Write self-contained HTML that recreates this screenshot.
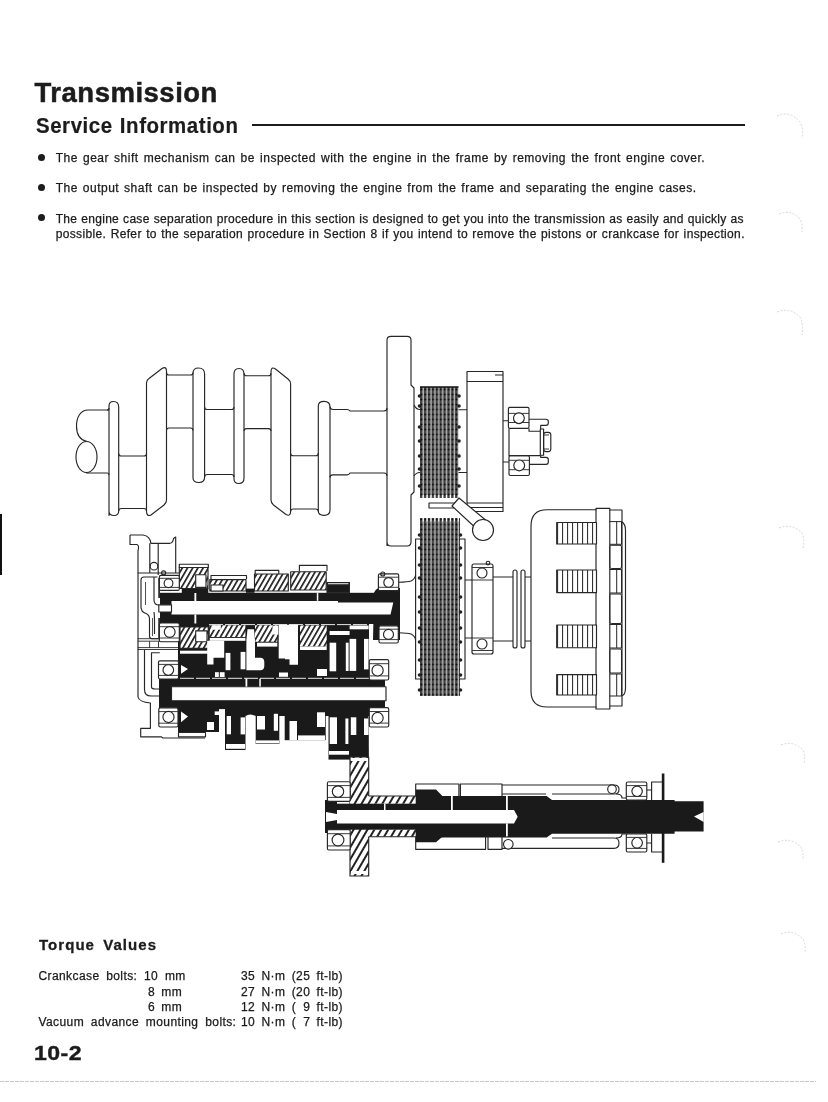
<!DOCTYPE html>
<html><head><meta charset="utf-8">
<style>
html,body{margin:0;padding:0;background:#fff;}
body{width:828px;height:1102px;position:relative;overflow:hidden;filter:grayscale(1);font-family:"Liberation Sans",sans-serif;color:#1c1c1c;}
.t{position:absolute;white-space:pre;line-height:1;}
#h1{left:34.6px;top:78.6px;font-size:27.5px;font-weight:bold;letter-spacing:0.5px;-webkit-text-stroke:0.5px #1c1c1c;}
#h2{left:35.5px;top:115.8px;font-size:21.5px;font-weight:bold;letter-spacing:0.6px;word-spacing:1px;-webkit-text-stroke:0.2px #1c1c1c;transform:scaleX(0.95);transform-origin:0 0;}
#rule{position:absolute;left:252px;top:124px;width:493px;height:2px;background:#1c1c1c;}
.b{font-size:12px;color:#1a1a1a;-webkit-text-stroke:0.25px #1a1a1a;}
.dot{position:absolute;width:7px;height:7px;border-radius:50%;background:#1c1c1c;}
#diag{position:absolute;left:0;top:0;}
</style></head><body>
<div class="t" id="h1">Transmission</div>
<div class="t" id="h2">Service Information</div>
<div id="rule"></div>

<div class="dot" style="left:38px;top:153.5px"></div>
<div class="t b" style="left:55.7px;top:151.6px;letter-spacing:0.5px;word-spacing:1.27px">The gear shift mechanism can be inspected with the engine in the frame by removing the front engine cover.</div>
<div class="dot" style="left:38px;top:183.5px"></div>
<div class="t b" style="left:55.7px;top:181.5px;letter-spacing:0.5px;word-spacing:1.09px">The output shaft can be inspected by removing the engine from the frame and separating the engine cases.</div>
<div class="dot" style="left:38px;top:214px"></div>
<div class="t b" style="left:55.7px;top:212.6px;letter-spacing:0.3px;word-spacing:0.36px">The engine case separation procedure in this section is designed to get you into the transmission as easily and quickly as</div>
<div class="t b" style="left:55.7px;top:228.3px;letter-spacing:0.35px;word-spacing:0.76px">possible. Refer to the separation procedure in Section 8 if you intend to remove the pistons or crankcase for inspection.</div>
<svg id="diag" width="828" height="1102" viewBox="0 0 828 1102" fill="none" stroke="#262626" stroke-width="1.15" stroke-linejoin="round">
<defs>
<pattern id="clutch" patternUnits="userSpaceOnUse" width="3.9" height="5" x="420" y="387">
<rect width="3.9" height="5" fill="#444" stroke="none"/>
<rect x="2.6" y="0" width="1.0" height="5" fill="#eee" stroke="none"/>
<rect x="0.3" y="1.6" width="2.1" height="1.9" rx="0.9" fill="#0c0c0c" stroke="none"/>
</pattern>
<pattern id="hatch" patternUnits="userSpaceOnUse" width="4.5" height="6" patternTransform="rotate(30)">
<rect width="4.5" height="6" fill="#fff" stroke="none"/>
<rect x="0" y="0" width="1.7" height="6" fill="#222" stroke="none"/>
</pattern>
<pattern id="hatch2" patternUnits="userSpaceOnUse" width="6" height="6" patternTransform="rotate(30)">
<rect width="6" height="6" fill="#fff" stroke="none"/>
<rect x="0" y="0" width="2" height="6" fill="#222" stroke="none"/>
</pattern>
<pattern id="coil" patternUnits="userSpaceOnUse" width="5" height="10" x="557">
<rect width="5" height="10" fill="#fff" stroke="none"/>
<rect x="0" y="0" width="1.1" height="10" fill="#333" stroke="none"/>
</pattern>
</defs>
<!-- crankshaft -->
<g>
<path d="M109,410 L88,410 C80,410 76.5,418 76.5,426 C76.5,434 80,440 87,441.5"/>
<ellipse cx="86.5" cy="457" rx="10.5" ry="15.5"/>
<path d="M86,473 L107,473 Q109,473 109,475 M107,410 Q109,410 109,408"/>
<path d="M109,515.5 V406 Q109,401.5 113.5,401.5 Q118.7,401.5 118.7,407 V511 Q118.7,515.5 114,515.5 Q109,515.5 109,511 Z"/>
<path d="M118.7,453.5 Q118.7,456 121.2,456 H144.0 Q146.5,456 146.5,453.5 M118.7,511.0 Q118.7,508.5 121.2,508.5 H144.0 Q146.5,508.5 146.5,511.0"/>
<path d="M146.5,511 V383 Q146.5,380 149,378.5 L162,368.5 Q166.5,366 166.5,371 V500 Q166.5,503 164,505 L151,515 Q146.5,517 146.5,511 Z"/>
<path d="M166.5,372.5 Q166.5,375 169.0,375 H190.5 Q193,375 193,372.5 M166.5,430.5 Q166.5,428 169.0,428 H190.5 Q193,428 193,430.5"/>
<path d="M193,478 V373 Q193,368 198.5,368 Q204.6,368 204.6,374 V477 Q204.6,482.5 199,482.5 Q193,482.5 193,478 Z"/>
<path d="M204.6,407.0 Q204.6,409.5 207.1,409.5 H231.5 Q234,409.5 234,407.0 M204.6,477.0 Q204.6,474.5 207.1,474.5 H231.5 Q234,474.5 234,477.0"/>
<path d="M234,479 V374 Q234,368.5 239,368.5 Q244,368.5 244,374 V478 Q244,483.5 239,483.5 Q234,483.5 234,479 Z"/>
<path d="M244,373.2 Q244,375.7 246.5,375.7 H268.5 Q271,375.7 271,373.2 M244,431.1 Q244,428.6 246.5,428.6 H268.5 Q271,428.6 271,431.1"/>
<path d="M271,372 Q271,366 275.5,369 L288,379 Q290.6,381 290.6,384 V511 Q290.6,517 286,514.5 L273.5,505 Q271,503 271,500 Z"/>
<path d="M290.6,453.2 Q290.6,455.7 293.1,455.7 H315.8 Q318.3,455.7 318.3,453.2 M290.6,511.5 Q290.6,509 293.1,509 H315.8 Q318.3,509 318.3,511.5"/>
<path d="M318.3,511 V406 Q318.3,401.3 324,401.3 Q330,401.3 330,407 V510 Q330,515.3 324,515.3 Q318.3,515.3 318.3,511 Z"/>
<path d="M330,406.5 Q330,409.5 333,409.5 H347 Q349,409.5 350,411 H384 Q387,411 387,408 M330,477.5 Q330,474.8 333,474.8 H347 Q349,474.8 350,473 H384 Q387,473 387,476"/>
</g>
<!-- flywheel / primary -->
<path d="M387,546 V340 Q387,336.3 391,336.3 H407 Q411,336.3 411,340 V385 L414,388 V492 L411,495 V542 Q411,546 407,546 H391 Q387,546 387,542"/>
<rect x="420" y="387" width="38.5" height="111" fill="url(#clutch)" stroke="none"/><path d="M420,387 H458.5" stroke="#111" stroke-width="1.5"/><circle cx="419.5" cy="396" r="1.8" fill="#222" stroke="none"/><circle cx="459" cy="396" r="1.8" fill="#222" stroke="none"/><circle cx="419.5" cy="406" r="1.8" fill="#222" stroke="none"/><circle cx="459" cy="406" r="1.8" fill="#222" stroke="none"/><circle cx="419.5" cy="427" r="1.8" fill="#222" stroke="none"/><circle cx="459" cy="427" r="1.8" fill="#222" stroke="none"/><circle cx="419.5" cy="441" r="1.8" fill="#222" stroke="none"/><circle cx="459" cy="441" r="1.8" fill="#222" stroke="none"/><circle cx="419.5" cy="456" r="1.8" fill="#222" stroke="none"/><circle cx="459" cy="456" r="1.8" fill="#222" stroke="none"/><circle cx="419.5" cy="469" r="1.8" fill="#222" stroke="none"/><circle cx="459" cy="469" r="1.8" fill="#222" stroke="none"/><circle cx="419.5" cy="486" r="1.8" fill="#222" stroke="none"/><circle cx="459" cy="486" r="1.8" fill="#222" stroke="none"/>
<rect x="422.6" y="495" width="1.1" height="3.5" fill="#fff" stroke="none"/><rect x="426.5" y="495" width="1.1" height="3.5" fill="#fff" stroke="none"/><rect x="430.4" y="495" width="1.1" height="3.5" fill="#fff" stroke="none"/><rect x="434.3" y="495" width="1.1" height="3.5" fill="#fff" stroke="none"/><rect x="438.2" y="495" width="1.1" height="3.5" fill="#fff" stroke="none"/><rect x="442.1" y="495" width="1.1" height="3.5" fill="#fff" stroke="none"/><rect x="446.0" y="495" width="1.1" height="3.5" fill="#fff" stroke="none"/><rect x="449.9" y="495" width="1.1" height="3.5" fill="#fff" stroke="none"/><rect x="453.8" y="495" width="1.1" height="3.5" fill="#fff" stroke="none"/><rect x="457.7" y="495" width="1.1" height="3.5" fill="#fff" stroke="none"/>
<path d="M414,405 Q416,409.5 420,409.5 M414,476 Q416,472.5 420,472.5"/>
<path d="M458.5,409.7 H467 M458.5,472.5 H467"/>
<rect x="467" y="371.5" width="36" height="140"/>
<path d="M467,381.5 H503 M467,503 H503 M495,375 H503 M467,507.5 H503"/>
<path d="M503,420.7 H508.4 M503,462 H509"/>
<rect x="508.4" y="407.3" width="20.6" height="21" rx="1.5" fill="#fff"/>
<path d="M508.4,413.4 H529 M508.4,422.5 H529" stroke-width="0.9"/>
<circle cx="518.9" cy="418.2" r="5.4" fill="#fff"/>
<rect x="509" y="455.6" width="20.4" height="19.9" rx="1.5" fill="#fff"/>
<path d="M509,460.3 H529.4 M509,469.7 H529.4" stroke-width="0.9"/>
<circle cx="519.2" cy="465.4" r="5.4" fill="#fff"/>
<path d="M509,428.3 V455.6 H540.3 M529,428.3 V431.2 H540.3"/>
<path d="M529,419.2 H546 Q548.3,419.2 548.3,421.5 V423 Q548.3,425.4 546,425.4 H540.7 V429"/>
<path d="M529.4,464.3 H546 Q548.3,464.3 548.3,462 V459.7 Q548.3,457.4 546,457.4 H540.7 V455.2"/>
<rect x="540.3" y="429" width="3.3" height="26.2"/>
<rect x="543.6" y="432.3" width="7.2" height="19.3" rx="2.5"/>
<path d="M543.6,435 H549 M543.6,449 H549" stroke-width="0.9"/>
<!-- lever -->
<rect x="429" y="503" width="26" height="5"/>
<path d="M452,506 L459,498 L488,522 L479,531 Z" fill="#fff"/>
<circle cx="483" cy="530" r="10.5" fill="#fff"/>
<!-- lower clutch -->

<rect x="415.6" y="539" width="49.4" height="140" fill="#fff"/><rect x="420" y="518" width="40" height="178" fill="url(#clutch)" stroke="none"/><circle cx="419.5" cy="535" r="1.8" fill="#222" stroke="none"/><circle cx="460.5" cy="535" r="1.8" fill="#222" stroke="none"/><circle cx="419.5" cy="548" r="1.8" fill="#222" stroke="none"/><circle cx="460.5" cy="548" r="1.8" fill="#222" stroke="none"/><circle cx="419.5" cy="565" r="1.8" fill="#222" stroke="none"/><circle cx="460.5" cy="565" r="1.8" fill="#222" stroke="none"/><circle cx="419.5" cy="578" r="1.8" fill="#222" stroke="none"/><circle cx="460.5" cy="578" r="1.8" fill="#222" stroke="none"/><circle cx="419.5" cy="597" r="1.8" fill="#222" stroke="none"/><circle cx="460.5" cy="597" r="1.8" fill="#222" stroke="none"/><circle cx="419.5" cy="612" r="1.8" fill="#222" stroke="none"/><circle cx="460.5" cy="612" r="1.8" fill="#222" stroke="none"/><circle cx="419.5" cy="628" r="1.8" fill="#222" stroke="none"/><circle cx="460.5" cy="628" r="1.8" fill="#222" stroke="none"/><circle cx="419.5" cy="642" r="1.8" fill="#222" stroke="none"/><circle cx="460.5" cy="642" r="1.8" fill="#222" stroke="none"/><circle cx="419.5" cy="660" r="1.8" fill="#222" stroke="none"/><circle cx="460.5" cy="660" r="1.8" fill="#222" stroke="none"/><circle cx="419.5" cy="675" r="1.8" fill="#222" stroke="none"/><circle cx="460.5" cy="675" r="1.8" fill="#222" stroke="none"/><circle cx="419.5" cy="690" r="1.8" fill="#222" stroke="none"/><circle cx="460.5" cy="690" r="1.8" fill="#222" stroke="none"/>
<rect x="422.6" y="517.5" width="1.1" height="4" fill="#fff" stroke="none"/><rect x="426.5" y="517.5" width="1.1" height="4" fill="#fff" stroke="none"/><rect x="430.4" y="517.5" width="1.1" height="4" fill="#fff" stroke="none"/><rect x="434.3" y="517.5" width="1.1" height="4" fill="#fff" stroke="none"/><rect x="438.2" y="517.5" width="1.1" height="4" fill="#fff" stroke="none"/><rect x="442.1" y="517.5" width="1.1" height="4" fill="#fff" stroke="none"/><rect x="446.0" y="517.5" width="1.1" height="4" fill="#fff" stroke="none"/><rect x="449.9" y="517.5" width="1.1" height="4" fill="#fff" stroke="none"/><rect x="453.8" y="517.5" width="1.1" height="4" fill="#fff" stroke="none"/><rect x="457.7" y="517.5" width="1.1" height="4" fill="#fff" stroke="none"/>
<path d="M465,580 H472 M465,638 H472"/>
<rect x="472" y="564" width="21" height="90" rx="2"/>
<path d="M472,580 H493 M472,638 H493 M472,567.5 H493 M472,650.5 H493" stroke-width="0.9"/>
<circle cx="482" cy="573" r="5" fill="#fff"/>
<circle cx="482" cy="644" r="5" fill="#fff"/>
<circle cx="488" cy="563" r="1.8"/>
<path d="M493,577 H513 M493,641 H513"/>
<rect x="513" y="570" width="4" height="78" rx="2"/>
<rect x="521" y="570" width="4" height="78" rx="2"/>
<path d="M525,577 H531 M525,641 H531"/>
<!-- alternator -->
<path d="M596.5,509.7 H547 Q531,509.7 531,526 V691 Q531,707 547,707 H596.5"/>
<rect x="596" y="508.3" width="13.8" height="200.7"/>
<path d="M609.8,510 H622 V706 H609.8"/>
<path d="M621.5,521.5 Q625.5,524 625.5,530 V688 Q625.5,695 621.5,696"/>
<rect x="556.7" y="522.5" width="39.8" height="21.5" fill="url(#coil)"/>
<rect x="556.7" y="570" width="39.8" height="22.6" fill="url(#coil)"/>
<rect x="556.7" y="625" width="39.8" height="22.7" fill="url(#coil)"/>
<rect x="556.7" y="674.6" width="39.8" height="20.4" fill="url(#coil)"/>
<path d="M609.8,521.6 H621.5 V544.3 H609.8 M616.7,521.6 V544.3" stroke-width="1"/>
<path d="M609.8,569.5 H621.5 V593 H609.8 M616.7,569.5 V593" stroke-width="1"/>
<path d="M609.8,624.5 H621.5 V648 H609.8 M616.7,624.5 V648" stroke-width="1"/>
<path d="M609.8,674 H621.5 V696 H609.8 M616.7,674 V696" stroke-width="1"/>
<rect x="609.8" y="545.3" width="11.7" height="23.200000000000045" rx="1.5" stroke-width="1"/>
<rect x="609.8" y="594" width="11.7" height="29.5" rx="1.5" stroke-width="1"/>
<rect x="609.8" y="649" width="11.7" height="24" rx="1.5" stroke-width="1"/>
<!-- ===== transmission ===== -->
<g>
<!-- case outline -->
<path d="M130,535 H143 Q150,536 151,543.3 H170 Q173,543 173.5,538.5 L175.7,537 V573"/>
<path d="M130,535 V544.5 H137 Q139.5,545.5 138,551 V697 Q139,702 150.4,703 V728.3 H140.7 V736.8 H161.2 L163,738 H205"/>
<path d="M149.8,543.3 V573 M158.2,543.3 V575"/>
<circle cx="154" cy="566.2" r="3.8"/>
<path d="M137.7,573 H179.3"/>
<path d="M157.5,577 H144 Q141,577 141,580 V607 Q141,612 146,613.5 Q149.5,615 149.5,619 V636 Q149.5,638.7 152,638.7 H159"/>
<path d="M154,577 Q154,580 154,583 V600 Q154,605 159,605"/>
<path d="M154,612 Q154.5,616 154.5,620 V634"/>
<path d="M145.5,582 V605 M152.5,618 V636" stroke-width="0.8"/>
<rect x="158.3" y="578" width="1.6" height="20" fill="#1a1a1a" stroke="none"/>
<rect x="158.3" y="618" width="1.6" height="20" fill="#1a1a1a" stroke="none"/>
<path d="M137.7,638.7 H179 M137.7,641.2 H179 M137.7,647.6 H179 M137.7,649.5 H179 M149.6,641.2 V647.6 M158.5,641.2 V647.6" stroke-width="0.9"/>
<path d="M144.5,650 V689.5 Q144.5,696 151,696 H171.5"/>
<path d="M159.8,652.7 H151.5 V687 Q151.5,689 155.3,689 H159.8"/>
<!-- main shaft -->
<rect x="160" y="592.8" width="240" height="31.2" fill="#1a1a1a" stroke="none"/>
<path d="M374,592.8 Q376,588 380,588 H400 V640 H373 Z" fill="#1a1a1a" stroke="none"/>
<path d="M171.5,601 H338 V602.4 H393.3 L390.5,614.5 H171.5 Z" fill="#fff" stroke="none"/>
<rect x="158.8" y="604.8" width="12.7" height="7.2" fill="#fff"/>
<rect x="194.4" y="592.8" width="1.9" height="8.2" fill="#fff" stroke="none"/>
<rect x="194.4" y="614.5" width="1.9" height="9" fill="#fff" stroke="none"/>
<rect x="316.8" y="592.8" width="1.5" height="8" fill="#fff" stroke="none"/>
<!-- upper gears on main shaft -->
<rect x="181.8" y="588" width="26.5" height="5" fill="#1a1a1a" stroke="none"/>
<rect x="179.3" y="567.5" width="28.7" height="21" fill="url(#hatch)"/>
<rect x="195.7" y="574.7" width="10.3" height="12.7" fill="#fff"/>
<path d="M179.3,568 V564.2 H208.3 V568"/>
<rect x="209.8" y="579.6" width="36.2" height="11.4" fill="url(#hatch)"/>
<rect x="211" y="585" width="12" height="6" fill="#fff"/>
<path d="M211,579 V575.5 H246.5 V579"/>
<rect x="246" y="588.6" width="8.5" height="4.2" fill="#1a1a1a" stroke="none"/>
<rect x="254.5" y="574" width="33.8" height="17" fill="url(#hatch)"/>
<path d="M255.2,574 V570.4 H278.8 V574"/>
<rect x="290.7" y="571.7" width="35.5" height="18.3" fill="url(#hatch)"/>
<path d="M299.4,571 V565.3 H327 V571"/>
<rect x="327" y="582.6" width="22.4" height="10.2" fill="#1a1a1a"/>
<path d="M327,582.6 H349.4 V592.8" stroke="#fff" stroke-width="0"/>
<rect x="327.5" y="582.6" width="21.5" height="2.2" fill="#fff" stroke="#222"/>
<!-- bearings main shaft -->
<rect x="159.4" y="575.3" width="19.9" height="15.1" rx="1.5" fill="#fff"/><path d="M159.4,578.3 H179.3 M159.4,587.4 H179.3" stroke-width="0.9"/><circle cx="168.5" cy="583.2" r="4.4" fill="#fff"/>
<circle cx="163.6" cy="572.9" r="2"/>
<rect x="378.4" y="573.9" width="20.3" height="16.7" rx="1.5" fill="#fff"/><path d="M378.4,577.2 H398.7 M378.4,587.3 H398.7" stroke-width="0.9"/><circle cx="388.6" cy="582.4" r="4.8" fill="#fff"/>
<circle cx="382.8" cy="574" r="2"/>
<path d="M398.7,582.3 Q408,582 411,581 Q415,579 415.6,575"/>
<!-- lower side of main shaft -->
<rect x="178" y="624" width="191" height="62.5" fill="#1a1a1a" stroke="none"/>
<rect x="159.4" y="623.0" width="19.9" height="18.7" rx="1.5" fill="#fff"/><path d="M159.4,626.7 H179.3 M159.4,638.0 H179.3" stroke-width="0.9"/><circle cx="169.7" cy="632.0" r="5.4" fill="#fff"/>
<rect x="180" y="627" width="28.3" height="21.3" fill="url(#hatch)"/>
<rect x="195.7" y="630.8" width="11.3" height="10.9" fill="#fff"/>
<rect x="180" y="650.7" width="28" height="3" fill="#fff" stroke="none"/>
<rect x="209.7" y="625.3" width="35.7" height="11.7" fill="url(#hatch)" stroke="none"/>
<rect x="211.6" y="625.3" width="9.2" height="4.4" fill="#fff" stroke="none"/>
<rect x="209.7" y="637.9" width="35.7" height="2.9" fill="#fff" stroke="none"/>
<path d="M247.5,629.2 H254 L255,640 V657.7 H260 Q264.3,657.7 264.3,662 V666 Q264.3,670.2 260,670.2 H246.4 V640 Z" fill="#fff" stroke="none"/>
<rect x="255" y="625.3" width="22.3" height="16.4" fill="url(#hatch)" stroke="none"/><rect x="272.5" y="625.8" width="5.8" height="8.7" fill="#fff" stroke="none"/>
<rect x="257" y="642.7" width="20.3" height="3.9" fill="#fff" stroke="none"/>
<path d="M278.7,624.8 H298 V664.7 H289.5 V658.6 H278.7 Z" fill="#fff" stroke="none"/>
<rect x="300" y="625.5" width="26.7" height="21" fill="url(#hatch)" stroke="none"/>
<rect x="300" y="646.5" width="26.7" height="3.5" fill="#fff" stroke="none"/>
<rect x="349.6" y="625.5" width="19" height="3.8" fill="#fff" stroke="none"/>
<rect x="329.6" y="631" width="20" height="4" fill="#fff" stroke="none"/>
<path d="M207.2,640.8 H224.2 V657.7 H213.5 V664.4 H207.2 Z" fill="#fff" stroke="none"/><rect x="225.6" y="652.9" width="4.8" height="17.3" fill="#fff" stroke="none"/>

<rect x="240.6" y="651.9" width="4.8" height="17.4" fill="#fff" stroke="none"/>
<rect x="215" y="672.2" width="3.8" height="4.8" fill="#fff" stroke="none"/><rect x="219.8" y="672.2" width="4.8" height="4.8" fill="#fff" stroke="none"/>
<rect x="279" y="672.5" width="9" height="4.3" fill="#fff" stroke="none"/>
<path d="M181,665 L188,669 L181,673.7 Z" fill="#fff" stroke="none"/>
<rect x="317" y="669" width="10" height="7" fill="#fff" stroke="none"/>
<rect x="285" y="646" width="12" height="13.3" fill="#fff" stroke="none"/>
<rect x="329.6" y="642.7" width="6.6" height="28.6" fill="#fff" stroke="none"/>
<rect x="345.8" y="642.7" width="2.8" height="28.3" fill="#fff" stroke="none"/>
<rect x="349.6" y="638.9" width="6.6" height="32" fill="#fff" stroke="none"/>
<rect x="364" y="638.9" width="4.6" height="30.5" fill="#fff" stroke="none"/>
<rect x="379.0" y="625.8" width="19.3" height="17.2" rx="1.5" fill="#fff"/><path d="M379.0,629.2 H398.3 M379.0,639.6 H398.3" stroke-width="0.9"/><circle cx="388.5" cy="634.4" r="5.0" fill="#fff"/>
<path d="M398.3,632.8 Q408,633 411,634 Q415,636 415.6,640"/>
<!-- counter shaft -->
<rect x="159" y="678.6" width="226" height="31" fill="#1a1a1a" stroke="none"/>
<rect x="171.5" y="686.7" width="214.5" height="14" fill="#fff"/>
<rect x="245.5" y="678.6" width="1.8" height="8" fill="#fff" stroke="none"/>
<rect x="259.3" y="678.6" width="1.5" height="8" fill="#fff" stroke="none"/>
<path d="M180,678.3 H369 M180,709.6 H369 M209,624.6 H369" stroke="#fff" stroke-width="0.9" stroke-dasharray="14 2"/>
<rect x="158.5" y="660.8" width="20.0" height="18.2" rx="1.5" fill="#fff"/><path d="M158.5,664.4 H178.5 M158.5,675.4 H178.5" stroke-width="0.9"/><circle cx="168.3" cy="670.0" r="5.3" fill="#fff"/>
<rect x="369.3" y="659.6" width="19.4" height="20.4" rx="1.5" fill="#fff"/><path d="M369.3,663.7 H388.7 M369.3,675.9 H388.7" stroke-width="0.9"/><circle cx="377.6" cy="670.4" r="5.6" fill="#fff"/>
<!-- counter lower gears -->
<rect x="178" y="709" width="41" height="23" fill="#1a1a1a" stroke="none"/>
<path d="M181,711.4 L188,716.5 L181,722.3 Z" fill="#fff" stroke="none"/>
<rect x="207" y="722" width="7" height="8" fill="#fff" stroke="none"/>
<rect x="214.7" y="711.4" width="4.3" height="3.6" fill="#fff" stroke="none"/>
<rect x="178.5" y="732.5" width="27" height="4.3" fill="#fff"/>
<rect x="225" y="709" width="20.5" height="41" fill="#1a1a1a" stroke="none"/>
<rect x="226" y="744" width="19" height="4.8" fill="#fff" stroke="none"/>
<rect x="226.7" y="713.8" width="4.3" height="20.5" fill="#fff" stroke="none"/>
<rect x="240.6" y="717.4" width="4.4" height="17" fill="#fff" stroke="none"/>
<rect x="225" y="709" width="150" height="7" fill="#1a1a1a" stroke="none"/>
<rect x="255.7" y="709" width="23.6" height="35" fill="#1a1a1a" stroke="none"/>
<rect x="256" y="740.4" width="23" height="3" fill="#fff" stroke="none"/>
<rect x="257" y="716" width="8" height="13.5" fill="#fff" stroke="none"/>
<rect x="273.8" y="713.8" width="4.2" height="17" fill="#fff" stroke="none"/>
<path d="M245.5,716 Q250,713 255.7,716" fill="#fff" stroke="none"/>
<rect x="284.7" y="709" width="41" height="31.2" fill="#1a1a1a" stroke="none"/>
<rect x="289.5" y="721" width="7.5" height="19.2" fill="#fff" stroke="none"/>
<rect x="298" y="735.4" width="27" height="4.8" fill="#fff" stroke="none"/>
<rect x="317" y="712.3" width="8" height="14.7" fill="#fff" stroke="none"/>
<rect x="328.5" y="709" width="40" height="50.6" fill="#1a1a1a" stroke="none"/>
<rect x="329.7" y="717.3" width="7.3" height="26.7" fill="#fff" stroke="none"/>
<rect x="345.4" y="718.5" width="3" height="25.5" fill="#fff" stroke="none"/>
<rect x="350.8" y="717.3" width="5.5" height="31.4" fill="#fff" stroke="none"/>
<rect x="364" y="718.5" width="4.3" height="30" fill="#fff" stroke="none"/>
<rect x="329" y="751" width="20" height="3.7" fill="#fff" stroke="none"/>
<rect x="158.8" y="707.8" width="19.2" height="19.2" rx="1.5" fill="#fff"/><path d="M158.8,711.6 H178.0 M158.8,723.2 H178.0" stroke-width="0.9"/><circle cx="168.5" cy="717.0" r="5.6" fill="#fff"/>
<rect x="369.3" y="707.6" width="19.4" height="19.4" rx="1.5" fill="#fff"/><path d="M369.3,711.5 H388.7 M369.3,723.1 H388.7" stroke-width="0.9"/><circle cx="377.6" cy="718.0" r="5.6" fill="#fff"/>
</g>
<!-- ===== output shaft ===== -->
<g>
<rect x="349" y="735" width="19.7" height="22" fill="#1a1a1a" stroke="none"/>
<rect x="350" y="757" width="18.7" height="119" fill="url(#hatch2)"/>
<rect x="350" y="796" width="85.3" height="7.7" fill="url(#hatch2)" stroke="none"/>
<rect x="350" y="829.6" width="85.3" height="7.1" fill="url(#hatch2)" stroke="none"/>
<path d="M368.7,796 H435.3 M368.7,836.7 H435.3"/>
<rect x="351" y="758" width="17" height="3" fill="#fff" stroke="none"/>
<rect x="351" y="871" width="17" height="3" fill="#fff" stroke="none"/>
<rect x="325" y="800" width="12" height="33" fill="#1a1a1a" stroke="none"/>
<rect x="337" y="803.7" width="100" height="26" fill="#1a1a1a" stroke="none"/>
<path d="M415.7,789.6 H436 L442.4,796 L442.4,810 H415.7 Z" fill="#1a1a1a" stroke="none"/>
<path d="M415.7,842.2 H436 L442.4,836.7 L442.4,823 H415.7 Z" fill="#1a1a1a" stroke="none"/>
<path d="M435,796 H546.6 L552,800 H674.6 V801.2 H703.6 V831.4 H674.6 V833.8 H552 L546.6,837.5 H435 Z" fill="#1a1a1a" stroke="none"/>
<path d="M337,810 H514 L517.7,816.7 L514,823.4 H337 Z" fill="#fff" stroke="none"/>
<path d="M326,812 L337,814 V820 L326,822 Z" fill="#fff" stroke="none"/>
<rect x="384" y="803.7" width="1.5" height="6.3" fill="#fff" stroke="none"/>
<rect x="451" y="796" width="1.8" height="14" fill="#fff" stroke="none"/>
<rect x="506" y="796" width="1.8" height="14" fill="#fff" stroke="none"/>
<rect x="506" y="823.4" width="1.8" height="13" fill="#fff" stroke="none"/>
<path d="M694,816.5 L703.6,812 V822 Z" fill="#fff" stroke="none"/>
<rect x="327.4" y="781.7" width="22.8" height="19.6" rx="1.5" fill="#fff"/><path d="M327.4,785.6 H350.2 M327.4,797.4 H350.2" stroke-width="0.9"/><circle cx="338.0" cy="791.5" r="5.7" fill="#fff"/>
<rect x="327.4" y="829.6" width="22.8" height="20.4" rx="1.5" fill="#fff"/><path d="M327.4,833.7 H350.2 M327.4,845.9 H350.2" stroke-width="0.9"/><circle cx="338.0" cy="840.0" r="5.9" fill="#fff"/>
<path d="M415.7,796 V784 H458.9 V796.7 M460.4,796 V784 H502 V796"/>
<path d="M415.7,836.7 V849.3 H485.6 V836 M488,836 V849.3 H502 V836"/>
<path d="M502,785 H614 Q619,785 619,789.5 Q619,794 614,794 H552 M502,794 H546"/>
<circle cx="612" cy="789.2" r="4.3" fill="#fff"/>
<path d="M502,848.3 H614 Q619,848.3 619,843 Q619,838 614,838 H552"/>
<circle cx="508.3" cy="844.3" r="4.8" fill="#fff"/>
<path d="M616,794 Q622,794 622,798 H626.3 M616,838 Q622,838 622,834 H626.3"/>
<rect x="626.3" y="782.0" width="20.5" height="18.0" rx="1.5" fill="#fff"/><path d="M626.3,785.6 H646.8 M626.3,796.4 H646.8" stroke-width="0.9"/><circle cx="637.1" cy="791.3" r="5.2" fill="#fff"/>
<rect x="626.3" y="833.8" width="20.5" height="18.2" rx="1.5" fill="#fff"/><path d="M626.3,837.4 H646.8 M626.3,848.4 H646.8" stroke-width="0.9"/><circle cx="637.1" cy="842.8" r="5.3" fill="#fff"/>
<path d="M646.8,790 H651.6 V782 H662 M651.6,790 V800 M646.8,843 H651.6 V852 H662 M651.6,843 V833.8"/>
<rect x="661.8" y="773.5" width="2.6" height="89.3" fill="#1a1a1a" stroke="none"/>
</g>
</svg>
<div class="t" style="left:39px;top:937.2px;font-size:15px;font-weight:bold;letter-spacing:1.05px;word-spacing:3px;-webkit-text-stroke:0.3px #1c1c1c">Torque Values</div>
<div class="t b" style="left:38.5px;top:970.2px;letter-spacing:0.4px;word-spacing:3px">Crankcase bolts: 10 mm</div>
<div class="t b" style="left:241px;top:970.2px;letter-spacing:0.4px;word-spacing:2.6px">35 N·m (25 ft-lb)</div>
<div class="t b" style="left:148px;top:985.5px;letter-spacing:0.4px;word-spacing:2.5px">8 mm</div>
<div class="t b" style="left:241px;top:985.5px;letter-spacing:0.4px;word-spacing:2.6px">27 N·m (20 ft-lb)</div>
<div class="t b" style="left:148px;top:1000.9px;letter-spacing:0.4px;word-spacing:2.5px">6 mm</div>
<div class="t b" style="left:241px;top:1000.9px;letter-spacing:0.4px;word-spacing:2.6px">12 N·m (&#8199;9 ft-lb)</div>
<div class="t b" style="left:38.5px;top:1016.2px;letter-spacing:0.4px;word-spacing:3.1px">Vacuum advance mounting bolts:</div>
<div class="t b" style="left:241px;top:1016.2px;letter-spacing:0.4px;word-spacing:2.6px">10 N·m (&#8199;7 ft-lb)</div>
<div class="t" style="left:33.5px;top:1042.3px;font-size:21px;font-weight:bold;letter-spacing:0.4px;-webkit-text-stroke:0.4px #1c1c1c;transform:scaleX(1.1);transform-origin:0 0">10-2</div>
<div style="position:absolute;left:0;top:514px;width:1.8px;height:61px;background:#111"></div>
<svg style="position:absolute;left:0;top:0" width="828" height="1102" fill="none">
<g stroke="#d4d4d4" stroke-width="0.9" stroke-dasharray="2 1.5">
<path d="M777,116 Q790,110 800,122 Q804,130 802,138"/>
<path d="M779,214 Q791,209 800,219 Q803,225 802,232"/>
<path d="M777,312 Q790,307 800,317 Q804,325 802,335"/>
<path d="M779,528 Q792,523 802,533 Q805,540 803,548"/>
<path d="M781,745 Q793,740 803,750 Q806,756 804,763"/>
<path d="M778,842 Q791,837 801,847 Q804,853 803,860"/>
<path d="M781,934 Q793,929 803,939 Q806,945 805,952"/>
</g>
<path d="M0,1081.5 H816" stroke="#c8c8c8" stroke-width="1" stroke-dasharray="4 1"/>
</svg>
</body></html>
